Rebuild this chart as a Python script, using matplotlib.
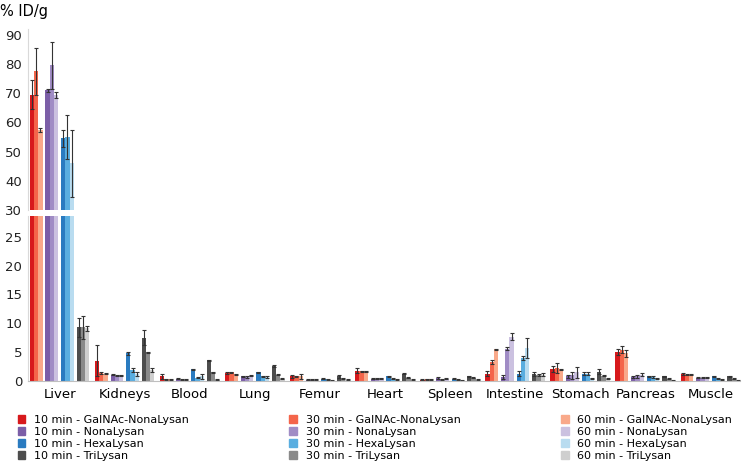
import matplotlib
matplotlib.use("Agg")
import matplotlib.pyplot as plt
from matplotlib.patches import Patch
import numpy as np

organs = ["Liver","Kidneys","Blood","Lung","Femur","Heart","Spleen","Intestine","Stomach","Pancreas","Muscle"]
series = ["10 min - GalNAc-NonaLysan","30 min - GalNAc-NonaLysan","60 min - GalNAc-NonaLysan",
          "10 min - NonaLysan","30 min - NonaLysan","60 min - NonaLysan",
          "10 min - HexaLysan","30 min - HexaLysan","60 min - HexaLysan",
          "10 min - TriLysan","30 min - TriLysan","60 min - TriLysan"]
colors = ["#d7191c","#f4654a","#f9a98a","#7b5ea7","#a08cc5","#cbc1e0",
          "#2a7bc0","#5aaee0","#b9dcf0","#4d4d4d","#8a8a8a","#cfcfcf"]
# rows = organs, columns = series
values = np.array([
 [69.5,77.5,57.5, 71,79.5,69.5, 54.5,55,46, 9.3,9.3,9.1],
 [3.5,1.4,1.3, 1.1,0.9,1.0, 4.8,1.9,1.2, 7.5,5.0,1.9],
 [0.8,0.3,0.3, 0.4,0.2,0.2, 2.0,0.6,0.8, 3.6,1.5,0.2],
 [1.4,1.5,1.2, 0.8,0.7,0.9, 1.5,0.8,0.7, 2.6,1.1,0.4],
 [0.8,0.8,0.8, 0.2,0.2,0.2, 0.4,0.3,0.05, 0.8,0.4,0.2],
 [1.8,1.7,1.7, 0.4,0.4,0.5, 0.8,0.4,0.2, 1.3,0.6,0.2],
 [0.2,0.3,0.3, 0.5,0.2,0.4, 0.4,0.2,0.1, 0.8,0.6,0.2],
 [1.3,3.3,5.5, 0.7,5.6,7.7, 1.3,4.0,5.7, 1.2,1.0,1.1],
 [2.1,2.3,2.0, 0.8,1.0,1.5, 1.3,1.3,0.5, 1.6,0.9,0.4],
 [5.0,5.4,4.8, 0.7,0.8,1.1, 0.8,0.7,0.5, 0.8,0.4,0.1],
 [1.2,1.1,1.1, 0.6,0.6,0.6, 0.8,0.5,0.3, 0.8,0.4,0.1],
])
errors = np.array([
 [5,8,0.7, 0.5,8,1, 3,7.5,11.5, 1.7,2,0.4],
 [2.7,0.2,0.1, 0.1,0.1,0.1, 0.3,0.3,0.4, 1.3,0.1,0.4],
 [0.4,0.1,0.1, 0.1,0.1,0.1, 0.1,0.1,0.5, 0.1,0.1,0.1],
 [0.1,0.1,0.1, 0.1,0.1,0.1, 0.1,0.1,0.1, 0.1,0.1,0.1],
 [0.3,0.1,0.4, 0.1,0.1,0.1, 0.1,0.1,0.1, 0.3,0.1,0.1],
 [0.4,0.1,0.1, 0.1,0.1,0.1, 0.1,0.1,0.1, 0.1,0.1,0.1],
 [0.1,0.1,0.1, 0.2,0.1,0.1, 0.1,0.1,0.1, 0.1,0.1,0.1],
 [0.4,0.3,0.1, 0.3,0.3,0.6, 0.4,0.3,1.7, 0.3,0.2,0.3],
 [0.5,0.9,0.1, 0.3,0.6,1.0, 0.3,0.3,0.1, 0.4,0.1,0.1],
 [0.5,0.6,0.6, 0.1,0.2,0.3, 0.1,0.1,0.1, 0.1,0.1,0.1],
 [0.2,0.1,0.1, 0.1,0.1,0.1, 0.1,0.1,0.1, 0.1,0.1,0.1],
])

fig = plt.figure(figsize=(7.5,4.69), dpi=100)
axb = fig.add_axes([0.037,0.1876,0.95,0.352])
axt = fig.add_axes([0.037,0.5522,0.95,0.386])
w, gap = 0.065, 0.045
x = np.arange(len(organs))
for s in range(12):
    fam, k = divmod(s, 3)
    off = -0.4575 + fam*(3*w+gap) + k*w + w/2
    for ax in (axb, axt):
        ax.bar(x+off, values[:,s], w, color=colors[s], yerr=errors[:,s],
               error_kw=dict(ecolor="#333333", elinewidth=0.8, capsize=1.5, capthick=0.8))
axb.set_ylim(0,28.6); axt.set_ylim(30,92)
axb.set_yticks([0,5,10,15,20,25]); axt.set_yticks(range(30,91,10))
for ax in (axb, axt):
    ax.set_xlim(-0.49,10.46)
    for sp in ("top","right"): ax.spines[sp].set_visible(False)
    ax.spines["left"].set_color("#d9d9d9")
    ax.tick_params(axis="y", length=0, labelsize=9.5, colors="#222222", pad=4)
axt.spines["bottom"].set_visible(False)
axt.set_xticks([])
axb.spines["bottom"].set_color("#bfbfbf")
axb.set_xticks(x); axb.set_xticklabels(organs, fontsize=9.5)
axb.tick_params(axis="x", length=0, pad=5)
fig.text(0.0, 0.965, "% ID/g", fontsize=10.5)
handles = [Patch(color=c) for c in colors]
order = [0,3,6,9,1,4,7,10,2,5,8,11]
fig.legend([handles[i] for i in order], [series[i] for i in order], ncol=3,
           loc="lower center", bbox_to_anchor=(0.5,0.0), frameon=False, fontsize=8,
           handlelength=0.7, handleheight=0.7, columnspacing=9, labelspacing=0.2,
           borderpad=0.2)
fig.savefig("out.png", dpi=100)
